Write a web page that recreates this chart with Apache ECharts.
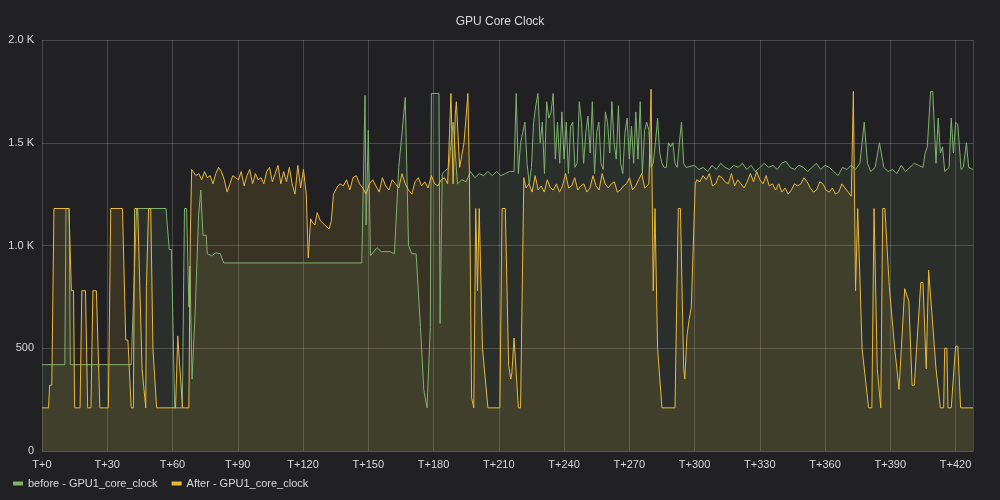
<!DOCTYPE html>
<html><head><meta charset="utf-8">
<script src="https://cdn.jsdelivr.net/npm/echarts@6/dist/echarts.min.js"></script>
<style>html,body{margin:0;background:#212124}#c{width:1000px;height:500px}</style>
</head><body><div id="c"></div>
<script>
const run = (t0, dt, vals) => vals.map((v, i) => [+(t0 + i * dt).toFixed(2), v]);

// before - GPU1_core_clock : [seconds, MHz]
const beforeData = [
  [0,420],[10.5,420],[11,1180],[12.5,1180],[13,420],[41,420],[43.5,1180],[57,1180],[58.5,980],[59.5,980],[61,210],[64.5,210],
  [65.5,1180],[66.5,1180],[67.5,700],[68,900],[69,350],[70.5,700],[72,1150],[73,1270],[74,1050],[75.5,1050],[76,960],[78,950],
  [80,965],[82,960],[83.5,915],[147,915],[148.5,1730],[149,1100],[150,1560],[151,950],[154,990],[156,970],[160,970],[162,960],
  [164,1380],[167,1720],[168.5,1000],[170,960],[172,960],[174,600],[175.5,300],[177,210],[178.5,600],[179,1740],[182.5,1740],
  [183,620],[184,1350],[185,1360],[187,1380],[189,1600],[191,1300],[193,1320],[195,1310],[197,1360],[199,1330],[201,1350],
  [203,1340],[205,1360],[207,1340],[209,1360],[211,1340],[213,1350],[215,1360],[217,1360],[218,1740],
  ...run(219, 1, [1350,1500,1550,1600,1400,1300,1380,1600,1680,1740,1500,1600,1350,1700,1620,1650,1740,1420,1600,1400,
    1650,1420,1600,1350,1580,1600,1380,1400,1700,1600,1400,1550,1630,1450,1700,1350,1550,1600,1400,1370,1650,1600,1450,
    1700,1500,1420,1680,1400,1350,1550,1620,1420,1580,1400,1650,1420,1700,1350,1560,1600,1560,1380,1400,1500,1620,1450,
    1400,1380,1380,1500,1480,1500,1400,1380,1500,1600,1400,1380]),
  ...run(300, 2, [1390,1370,1380,1360,1390,1370,1400,1380,1370,1390,1380,1400,1370,1390,1360,1380,1400,1380,1390,1370,
    1400,1410,1380,1370,1390,1380,1360,1380,1400,1370,1390,1380,1360,1340,1380,1370,1390,1370]),
  [376,1400],[378,1600],[379.5,1400],[381,1360],[383,1380],[385,1500],[387,1380],[389,1360],[391,1370],[393,1350],[395,1390],
  [397,1360],[399,1380],[401,1400],[403,1390],[405,1380],[406,1450],[407,1480],[408.5,1750],[409.5,1750],[411,1400],[412,1620],
  [413,1450],[414,1480],[415,1360],[417,1380],[418,1620],[419,1450],[420,1600],[421,1590],[422.5,1370],[423.5,1380],[425,1500],
  [426,1380],[428,1370]
];

// After - GPU1_core_clock
const afterData = [
  [0,210],[3,210],[3.5,320],[4.5,320],[5.5,1180],[12.4,1180],[13.5,780],[14.5,780],[15,210],[17.5,210],[18.3,780],[20,780],
  [21,210],[22.5,210],[23.4,780],[25,780],[26.6,210],[30.5,210],[31.6,1180],[37,1180],[38.5,540],[39.5,540],[41,210],[42,210],
  [42.6,1180],[44,1180],[46,400],[47.7,210],[48,800],[49,1180],[50,1180],[51,500],[52.7,210],[61.4,210],[62.4,560],[63,560],
  [64.6,210],[67.5,210],[68.2,1050],[68.8,1370],
  ...run(69.5, 1.3, [1370,1340,1350,1320,1360,1330,1340,1300,1350,1380,1360,1320,1260,1300,1340,1330,1320,1360,1290,1340,
    1370,1300,1350,1320,1330,1300,1360,1380,1310,1350,1390,1300,1360,1310,1380,1300,1250,1390,1280,1370]),
  [121.5,1250],[122.4,940],[123.5,1130],[124.5,1110],[125.5,1100],[126.5,1160],[128,1120],[130,1100],[132,1080],[133,1120],
  [134,1250],[135,1270],[136,1290],
  ...run(137, 1.5, [1300,1290,1320,1270,1330,1340,1300,1280,1250,1300,1320,1290,1260,1330,1290,1270,1320,1300,1280,1350,
    1300,1270,1250,1310,1330,1290,1310,1280,1340,1300,1290,1320,1330,1300]),
  [188,1740],[189,1300],[190,1640],[190.5,1700],[192,1380],[194,1500],[195.8,1740],[196.5,1330],[197.5,260],[198.5,210],
  [199.4,1180],[200.2,780],[201,1180],[202.5,500],[205,210],[210.5,210],[211.5,1180],[213,1180],[214.5,420],[215.5,350],
  [216,380],[217,550],[217.8,550],[219,210],[220,210],[221.5,1330],
  ...run(222.5, 1.4, [1280,1300,1260,1340,1270,1290,1260,1320,1280,1270,1300,1260,1290,1350,1280,1290,1330,1270,1290,1300,
    1260,1280,1340,1290,1270,1350,1300,1280,1300,1310,1260,1270,1290,1300,1330,1270,1290,1320,1350,1280]),
  [279,1300],[280,1760],[281,780],[281.8,1180],[283,500],[285,210],[291,210],[292.5,1180],[293.5,1180],[295,400],[295.5,350],
  [296.5,560],[297.5,640],[298.5,700],[300.3,1300],
  ...run(301, 1.45, [1320,1310,1340,1320,1350,1290,1300,1340,1330,1310,1300,1350,1290,1320,1300,1280,1310,1350,1310,1360,
    1320,1300,1340,1290,1300,1270,1300,1260,1280,1250,1270,1300,1290,1300,1330,1310,1280,1260,1270,1310,1300,1270,1260,
    1280,1250,1260,1300,1280,1260,1240]),
  [373,1750],[374,780],[375,1180],[377,500],[380,210],[381.5,210],[382.5,1180],[384,400],[385.6,210],[386.5,1180],[387.5,1180],
  [389.5,800],[392,500],[394,300],[396.6,790],[397.5,790],[398.5,730],[399.3,730],[400,320],[401,320],[404,820],[405,820],
  [406.5,400],[407.6,880],[408.5,880],[411,400],[413,210],[414.5,210],[415,500],[416,500],[416.5,210],[418,210],[420,510],
  [421,510],[422.3,210],[428,210]
];

const yTicks = { 0: "0", 500: "500", 1000: "1.0 K", 1500: "1.5 K", 2000: "2.0 K" };
const txt = "#d8d9da", gridC = "rgba(255,255,255,0.18)", font = "Liberation Sans";

const chart = echarts.init(document.getElementById("c"));
chart.setOption({
  backgroundColor: "#212124",
  animation: false,
  title: { text: "GPU Core Clock", left: "center", top: 11, textStyle: { color: txt, fontSize: 12, fontWeight: "normal", fontFamily: font } },
  legend: { left: 8, bottom: 6, icon: "rect", itemWidth: 10, itemHeight: 4, itemGap: 14,
    textStyle: { color: txt, fontSize: 11, fontFamily: font } },
  grid: { left: 42, right: 27, top: 40, bottom: 49 },
  xAxis: { type: "value", min: 0, max: 428, interval: 30,
    axisLine: { lineStyle: { color: "#555" } }, axisTick: { show: false },
    axisLabel: { color: txt, fontSize: 11, fontFamily: font, formatter: v => "T+" + v, showMaxLabel: false },
    splitLine: { lineStyle: { color: gridC } } },
  yAxis: { type: "value", min: 0, max: 2000, interval: 500,
    axisLine: { show: false }, axisTick: { show: false },
    axisLabel: { color: txt, fontSize: 11, fontFamily: font, formatter: v => yTicks[v] },
    splitLine: { lineStyle: { color: gridC } } },
  series: [
    { name: "before - GPU1_core_clock", type: "line", data: beforeData, showSymbol: false, color: "#7eb26d",
      lineStyle: { width: 1 }, areaStyle: { opacity: 0.1 } },
    { name: "After - GPU1_core_clock", type: "line", data: afterData, showSymbol: false, color: "#eab839",
      lineStyle: { width: 1 }, areaStyle: { opacity: 0.12 } }
  ]
});
</script></body></html>
